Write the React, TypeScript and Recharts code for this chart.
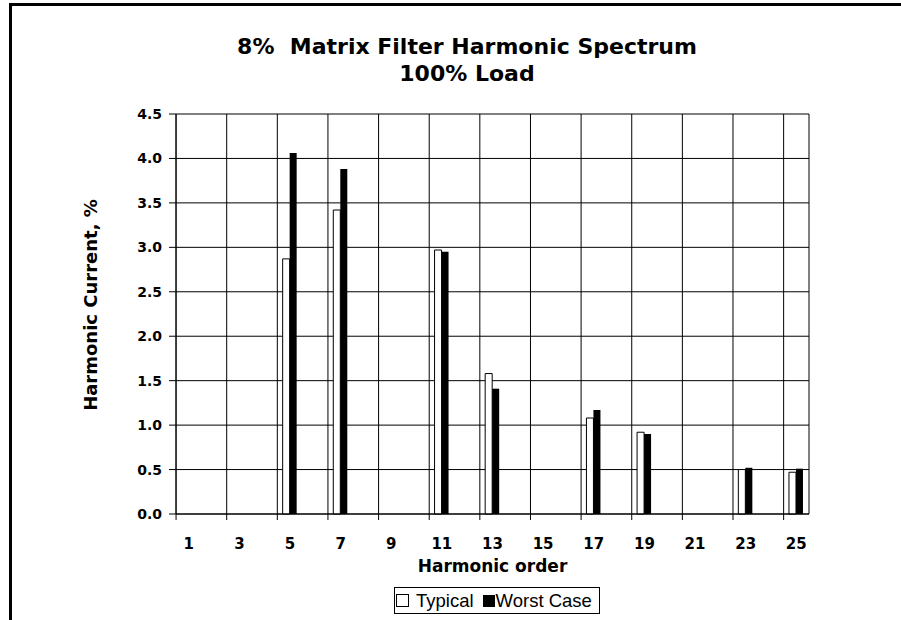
import React from 'react';
import { BarChart, Bar, XAxis, YAxis, CartesianGrid, Legend } from 'recharts';

// harmonic orders shown on the x axis
const harmonics = ['1', '3', '5', '7', '9', '11', '13', '15', '17', '19', '21', '23', '25'];

// harmonic current, % (blank where no bar is drawn)
const typical = [null, null, 2.87, 3.42, null, 2.97, 1.58, null, 1.08, 0.92, null, 0.5, 0.47];
const worstCase = [null, null, 4.06, 3.88, null, 2.95, 1.41, null, 1.17, 0.9, null, 0.52, 0.51];

// y axis tick labels
const yTicks = [0, 0.5, 1, 1.5, 2, 2.5, 3, 3.5, 4, 4.5];

const titleLines = ['8%  Matrix Filter Harmonic Spectrum', '100% Load'];

const data = harmonics.map((h, i) => ({ h, typical: typical[i], worst: worstCase[i] }));

const WIDE = '"DejaVu Sans", Verdana, sans-serif';
const ARIAL = 'Arial, "Liberation Sans", sans-serif';
const TICK_MARGIN = 24;
const X_PAD = -12.6;

// width of one category band, from the axis width and padding
const bandOf = (axisWidth: number) => (axisWidth - 2 * X_PAD) / harmonics.length;

// x tick: label at the category centre, tick mark a quarter band to the left
const renderHarmonicTick = (props: any) => {
  const { x, y, payload, width } = props;
  let bw = Number(payload?.offset) * 2;
  if (!isFinite(bw) || bw <= 0) bw = bandOf(Number(width) || 633);
  const tx = Number(x) - bw / 4;
  const axisY = Number(y) - TICK_MARGIN;
  return (
    <g key={`t-${payload?.value}`}>
      <path d={`M${tx},${axisY}V${axisY + 6}`} stroke="#000" strokeWidth={1} fill="none" />
      <text x={x} y={y} dy="0.71em" textAnchor="middle" fill="#000"
        style={{ fontFamily: WIDE, fontWeight: 'bold', fontSize: 15 }}>
        {payload?.value}
      </text>
    </g>
  );
};

// vertical grid lines follow the offset tick marks, plus the right border
const gridX = ({ xAxis, offset }: any) => {
  const s = xAxis?.scale;
  const right = offset.left + offset.width;
  let pos: (v: string) => number;
  let bw: number;
  if (s && typeof s === 'function' && typeof s.bandwidth === 'function') {
    pos = (v) => s(v);
    bw = s.bandwidth();
  } else if (s && typeof s.map === 'function' && typeof s.bandwidth === 'function') {
    pos = (v) => s.map(v);
    bw = s.bandwidth();
  } else {
    const start = offset.left + X_PAD;
    bw = bandOf(offset.width);
    pos = (v) => start + harmonics.indexOf(v) * bw;
  }
  return [...harmonics.map((h) => pos(h) + bw / 4), right];
};

const LegendBox = (props: any) => {
  const items = props.payload || [];
  return (
    <div style={{
      display: 'inline-flex', alignItems: 'center', border: '1px solid #000',
      padding: '3px 7px 3px 1px', fontFamily: ARIAL, fontSize: 18.5, lineHeight: '19px', background: '#fff',
    }}>
      {items.map((it: any, i: number) => (
        <span key={i} style={{ display: 'inline-flex', alignItems: 'center', marginLeft: i ? 9 : 0 }}>
          <span style={{
            display: 'inline-block', width: i ? 10 : 11, height: i ? 10 : 11, border: '1px solid #000',
            background: it.payload?.fill ?? it.color, marginRight: i ? 1 : 7,
          }} />
          {it.value}
        </span>
      ))}
    </div>
  );
};

const App: React.FC = () => {
  return (
    <div style={{ position: 'absolute', left: 0, top: 0, width: 901, height: 620, background: '#fff', overflow: 'hidden' }}>
      <div style={{
        position: 'absolute', left: 9, top: 3, right: -10, bottom: -10,
        borderTop: '3px solid #000', borderLeft: '3px solid #000',
      }} />
      <div style={{
        position: 'absolute', left: 167, top: 33, width: 600, textAlign: 'center',
        fontFamily: WIDE, fontWeight: 'bold', fontSize: 22, lineHeight: '27px', whiteSpace: 'pre',
      }}>
        {titleLines.map((t) => <div key={t}>{t}</div>)}
      </div>
      <div style={{
        position: 'absolute', left: 91 - 150, top: 305 - 11, width: 300, height: 22,
        transform: 'rotate(-90deg)', textAlign: 'center', lineHeight: '22px',
        fontFamily: WIDE, fontWeight: 'bold', fontSize: 18,
      }}>
        Harmonic Current, %
      </div>
      <BarChart width={901} height={620} data={data} barGap={0}
        margin={{ top: 114, right: 92, bottom: 6, left: 70 }}>
        <CartesianGrid stroke="#000" verticalCoordinatesGenerator={gridX} />
        <XAxis dataKey="h" interval={0} padding={{ left: X_PAD, right: X_PAD }}
          axisLine={{ stroke: '#000' }} tickLine={false} tickSize={0} tickMargin={TICK_MARGIN}
          tick={renderHarmonicTick} height={73}
          label={{
            value: 'Harmonic order', position: 'insideBottom', offset: 15, fill: '#000',
            style: { fontFamily: WIDE, fontWeight: 'bold', fontSize: 17 },
          }} />
        <YAxis domain={[0, 4.5]} ticks={yTicks} interval={0} width={106}
          tickFormatter={(v: number) => v.toFixed(1)}
          axisLine={{ stroke: '#000' }} tickLine={{ stroke: '#000' }} tickSize={7} tickMargin={7}
          tick={{ fill: '#000', fontFamily: WIDE, fontWeight: 'bold', fontSize: 14 }} />
        <Bar dataKey="typical" name="Typical" fill="#fff" stroke="#000" strokeWidth={1}
          barSize={7} isAnimationActive={false} />
        <Bar dataKey="worst" name="Worst Case" fill="#000" barSize={7} isAnimationActive={false} />
        <Legend verticalAlign="bottom" content={<LegendBox />}
          wrapperStyle={{ left: 394, width: 'auto' }} />
      </BarChart>
    </div>
  );
};

export default App;
